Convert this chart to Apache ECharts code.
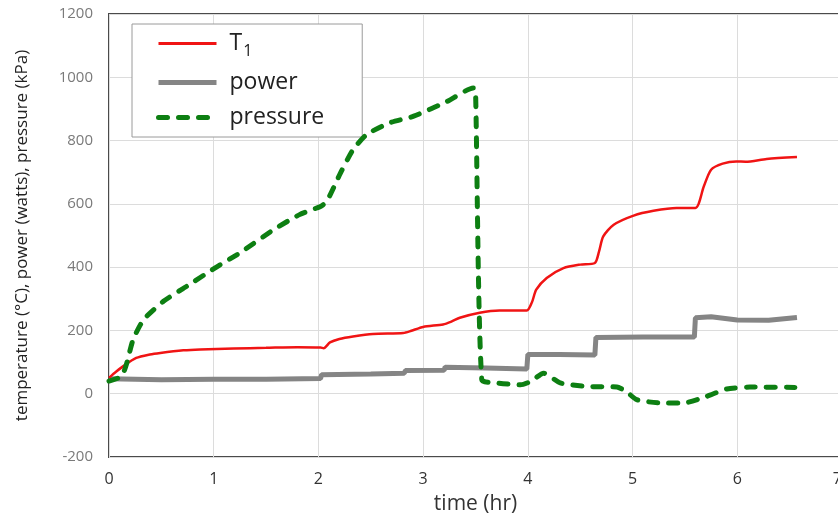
<!DOCTYPE html>
<html>
<head>
<meta charset="utf-8">
<script src="https://cdn.jsdelivr.net/npm/echarts@6/dist/echarts.min.js"></script>
<style>
html,body{margin:0;padding:0;background:#fff;}
#chart{width:838px;height:515px;}
</style>
</head>
<body>
<div id="chart"></div>
<script>
// time (hr) / value pairs
var t1Time  = [0, 0.07, 0.14, 0.26, 0.39, 0.49, 0.71, 0.87, 1.19, 1.5, 1.8, 2.02, 2.05, 2.11, 2.2, 2.33, 2.52, 2.81, 2.88, 3.0, 3.19, 3.27, 3.35, 3.54, 3.73, 3.99, 4.04, 4.08, 4.18, 4.34, 4.5, 4.64, 4.68, 4.72, 4.82, 5.01, 5.2, 5.42, 5.6, 5.68, 5.75, 5.86, 5.99, 6.08, 6.28, 6.57];
var t1Value = [50, 70, 88, 113, 124, 129, 137, 140, 143, 145, 147, 146, 144, 162, 173, 181, 189, 192, 198, 211, 219, 228, 240, 256, 263, 263, 290, 329, 366, 397, 408, 413, 450, 497, 534, 563, 578, 587, 587, 655, 708, 727, 734, 733, 742, 748];

var powerTime  = [0, 0.5, 1.0, 1.5, 2.02, 2.03, 2.5, 2.82, 2.83, 3.2, 3.21, 3.6, 3.99, 4.0, 4.3, 4.64, 4.65, 5.1, 5.59, 5.6, 5.75, 6.0, 6.3, 6.57];
var powerValue = [47, 44, 46, 46, 48, 60, 62, 65, 73, 74, 84, 81, 78, 124, 124, 122, 178, 179, 179, 240, 243, 233, 232, 241];

var pressureTime  = [0, 0.12, 0.17, 0.23, 0.33, 0.52, 0.74, 1.01, 1.25, 1.57, 1.82, 2.02, 2.08, 2.21, 2.33, 2.46, 2.68, 2.91, 3.23, 3.48, 3.50, 3.56, 3.70, 3.93, 4.03, 4.15, 4.31, 4.56, 4.85, 4.94, 5.04, 5.27, 5.49, 5.71, 5.90, 6.12, 6.55];
var pressureValue = [40, 55, 97, 171, 234, 292, 339, 397, 445, 518, 566, 592, 608, 697, 771, 819, 856, 877, 924, 966, 960, 44, 34, 28, 39, 65, 34, 23, 21, 7, -19, -29, -29, -8, 15, 21, 20];

var xTicks = [0, 1, 2, 3, 4, 5, 6, 7];
var yTicks = [-200, 0, 200, 400, 600, 800, 1000, 1200];
var seriesNames = ['T1', 'power', 'pressure'];

function pairs(xs, ys) {
  var out = [];
  for (var i = 0; i < xs.length; i++) out.push([xs[i], ys[i]]);
  return out;
}

var RED = '#f01414', GRAY = '#858585', GREEN = '#0d7f12';
var chart = echarts.init(document.getElementById('chart'), null, {renderer: 'canvas'});
var font = 'Open Sans, Noto Sans, sans-serif';
chart.setOption({
  animation: false,
  backgroundColor: '#ffffff',
  grid: {
    left: 109, top: 14, width: 733, height: 443,
    outerBoundsMode: 'none', containLabel: false,
    show: true, borderColor: '#4a4a4a', borderWidth: 2, backgroundColor: 'transparent'
  },
  legend: {
    orient: 'vertical',
    left: 132, top: 24,
    data: [
      {name: seriesNames[0], lineStyle: {color: RED, width: 3}},
      {name: seriesNames[1], lineStyle: {color: GRAY, width: 5}},
      {name: seriesNames[2], lineStyle: {color: GREEN, width: 5, type: [9, 11], cap: 'round'}}
    ],
    backgroundColor: '#ffffff',
    borderColor: '#9a9a9a', borderWidth: 1, borderRadius: 0,
    padding: [8, 38, 8, 24],
    itemWidth: 58, itemHeight: 14, itemGap: 12,
    itemStyle: {color: 'rgba(0,0,0,0)', borderColor: 'rgba(0,0,0,0)', borderWidth: 0},
    formatter: function (name) {
      return name === 'T1' ? '{a|T}{s|1}' : name;
    },
    textStyle: {
      fontFamily: font, fontSize: 23, color: '#222', padding: [0, 0, 0, 8],
      rich: {
        a: {fontFamily: font, fontSize: 23, color: '#222'},
        s: {fontFamily: font, fontSize: 16, color: '#222', padding: [15, 0, 0, 1]}
      }
    }
  },
  xAxis: {
    type: 'value',
    min: xTicks[0], max: xTicks[xTicks.length - 1], interval: 1,
    name: 'time (hr)', nameLocation: 'middle', nameGap: 37,
    nameTextStyle: {fontFamily: font, fontSize: 21, color: '#333'},
    axisLine: {show: false, onZero: false},
    axisTick: {show: false},
    axisLabel: {fontFamily: font, fontSize: 16, color: '#333', margin: 14, alignMaxLabel: 'right'},
    splitLine: {show: true, lineStyle: {color: '#dcdcdc', width: 1}}
  },
  yAxis: {
    type: 'value',
    min: yTicks[0], max: yTicks[yTicks.length - 1], interval: 200,
    name: 'temperature (°C), power (watts), pressure (kPa)',
    nameLocation: 'middle', nameGap: 78, nameRotate: 90,
    nameTextStyle: {fontFamily: font, fontSize: 17, color: '#222'},
    axisLine: {show: false, onZero: false},
    axisTick: {show: false},
    axisLabel: {
      fontFamily: font, fontSize: 15, color: '#7a7a7a', margin: 16,
      formatter: function (v) { return String(v); }
    },
    splitLine: {show: true, lineStyle: {color: '#dcdcdc', width: 1}}
  },
  series: [
    {
      name: 'T1', type: 'line', showSymbol: false, symbol: 'none', smooth: 0.25,
      data: pairs(t1Time, t1Value),
      lineStyle: {color: RED, width: 2.5},
      itemStyle: {color: RED}, z: 3
    },
    {
      name: 'power', type: 'line', showSymbol: false, symbol: 'none',
      data: pairs(powerTime, powerValue),
      lineStyle: {color: GRAY, width: 5},
      itemStyle: {color: GRAY}, z: 2
    },
    {
      name: 'pressure', type: 'line', showSymbol: false, symbol: 'none', smooth: 0.2,
      data: pairs(pressureTime, pressureValue),
      lineStyle: {color: GREEN, width: 5, type: [9, 11], cap: 'round'},
      itemStyle: {color: GREEN}, z: 4
    }
  ]
});
</script>
</body>
</html>
